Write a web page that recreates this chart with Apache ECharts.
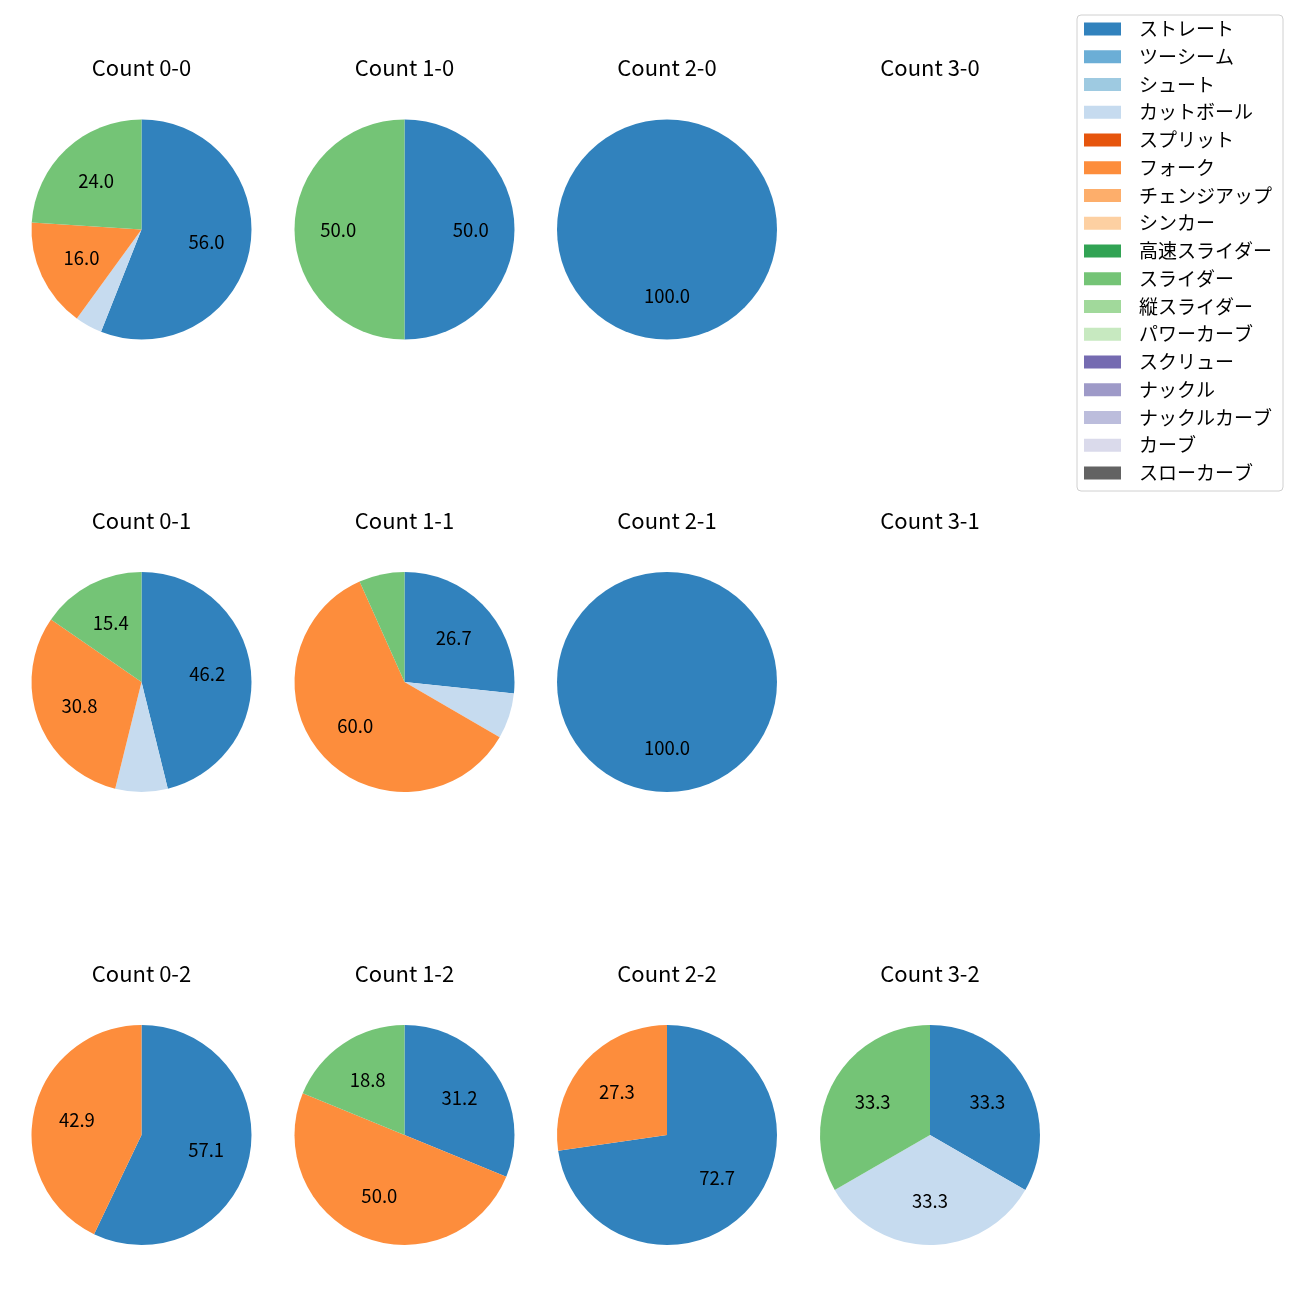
<!DOCTYPE html>
<html>
<head>
<meta charset="utf-8">
<script src="https://cdn.jsdelivr.net/npm/echarts@6/dist/echarts.min.js"></script>
<style>html,body{margin:0;padding:0;background:#fff}#c{width:1300px;height:1300px}</style>
</head>
<body>
<div id="c"></div>
<script>
const categories = ['ストレート','ツーシーム','シュート','カットボール','スプリット','フォーク','チェンジアップ','シンカー','高速スライダー','スライダー','縦スライダー','パワーカーブ','スクリュー','ナックル','ナックルカーブ','カーブ','スローカーブ'];
const colors = ['#3182bd','#6baed6','#9ecae1','#c6dbef','#e6550d','#fd8d3c','#fdae6b','#fdd0a2','#31a354','#74c476','#a1d99b','#c7e9c0','#756bb1','#9e9ac8','#bcbddc','#dadaeb','#636363'];

const pieTitles = ['Count 0-0','Count 1-0','Count 2-0','Count 3-0','Count 0-1','Count 1-1','Count 2-1','Count 3-1','Count 0-2','Count 1-2','Count 2-2','Count 3-2'];
const count00 = [['ストレート',56.0],['カットボール',4.0],['フォーク',16.0],['スライダー',24.0]];
const count10 = [['ストレート',50.0],['スライダー',50.0]];
const count20 = [['ストレート',100.0]];
const count30 = [];
const count01 = [['ストレート',46.2],['カットボール',7.7],['フォーク',30.8],['スライダー',15.4]];
const count11 = [['ストレート',26.7],['カットボール',6.7],['フォーク',60.0],['スライダー',6.7]];
const count21 = [['ストレート',100.0]];
const count31 = [];
const count02 = [['ストレート',57.1],['フォーク',42.9]];
const count12 = [['ストレート',31.2],['フォーク',50.0],['スライダー',18.8]];
const count22 = [['ストレート',72.7],['フォーク',27.3]];
const count32 = [['ストレート',33.3],['カットボール',33.3],['スライダー',33.3]];
const pies = [count00,count10,count20,count30,count01,count11,count21,count31,count02,count12,count22,count32];

const FONT = '"Noto Sans CJK JP", "Noto Sans", sans-serif';
const colX = [141.5, 404.5, 667, 930];
const rowY = [229.5, 682, 1135];
const R = 110;

const titles = [];
const series = [];
const labelSeries = [];
pies.forEach((p, i) => {
  const cx = colX[i % 4], cy = rowY[Math.floor(i / 4)];
  titles.push({
    text: pieTitles[i], left: cx, top: cy - 172.5, textAlign: 'center', padding: 0,
    textStyle: {fontFamily: FONT, fontSize: 22, fontWeight: 'normal', color: '#000'}
  });
  if (!p.length) return;
  const m = {}; p.forEach(([n, v]) => m[n] = v);
  const data = categories.map((n, k) => ({name: n, value: m[n] || 0, itemStyle: {color: colors[k]}}));
  series.push({
    type: 'pie', center: [cx, cy], radius: [0, R], startAngle: 90, clockwise: true,
    avoidLabelOverlap: false, silent: true, label: {show: false}, labelLine: {show: false},
    itemStyle: {borderWidth: 0}, data: data
  });
  labelSeries.push({
    type: 'pie', center: [cx, cy], radius: [0, R * 1.15], startAngle: 90, clockwise: true,
    avoidLabelOverlap: false, silent: true, labelLine: {show: false},
    itemStyle: {color: 'rgba(0,0,0,0)', borderWidth: 0},
    label: {
      show: true, position: 'inside', color: '#000', fontFamily: FONT, fontSize: 18.5,
      formatter: q => q.value >= 10 ? q.value.toFixed(1) : ''
    },
    data: data.map(d => ({name: d.name, value: d.value}))
  });
});

const chart = echarts.init(document.getElementById('c'), null, {renderer: 'canvas'});
chart.setOption({
  animation: false,
  backgroundColor: '#fff',
  title: titles,
  legend: {
    orient: 'vertical', left: 1077, top: 15,
    data: categories.map((n, k) => ({name: n, itemStyle: {color: colors[k]}})),
    icon: 'rect', itemWidth: 37, itemHeight: 13, itemGap: 7.75,
    padding: [4, 9, 8, 7],
    borderColor: '#d0d0d0', borderWidth: 1, borderRadius: 4,
    selectedMode: false,
    textStyle: {fontFamily: FONT, fontSize: 19, color: '#000', lineHeight: 20, width: 135, padding: [0, 0, 0, 13]}
  },
  series: series.concat(labelSeries)
});
</script>
</body>
</html>
